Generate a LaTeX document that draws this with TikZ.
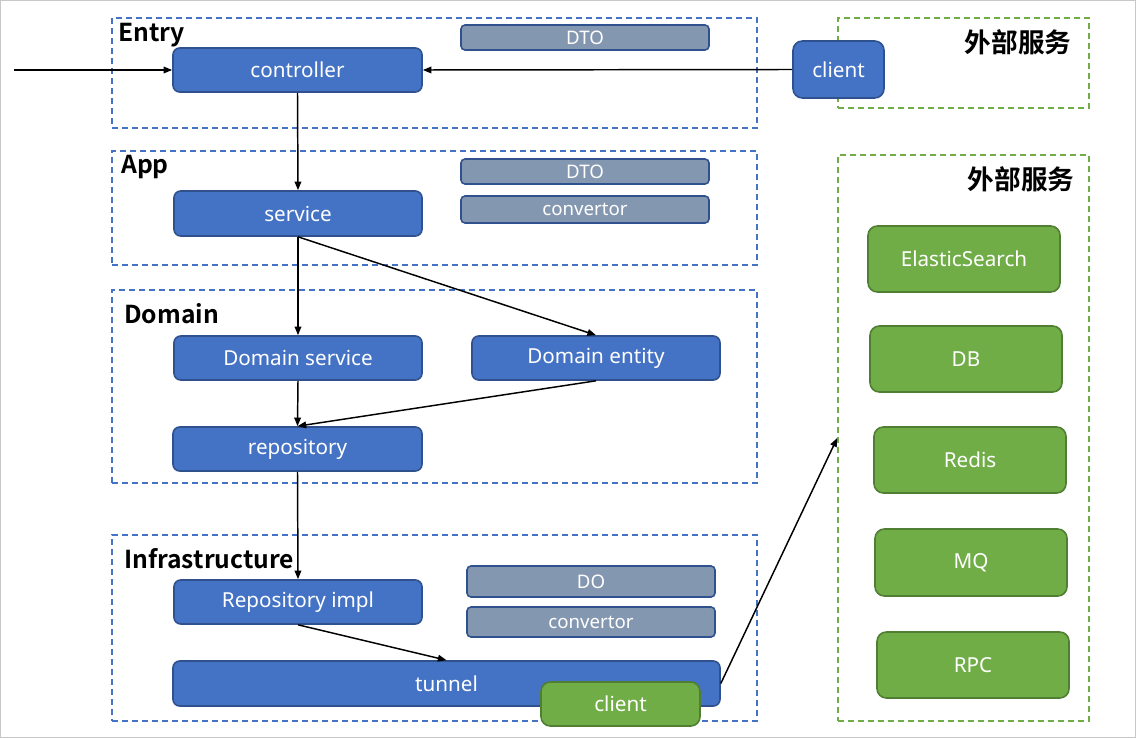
\documentclass[tikz,border=0pt]{standalone}
\usepackage{fontspec}
\setmainfont{Noto Sans}
\newfontfamily\cjkbold{Noto Sans CJK SC Bold}
\usetikzlibrary{arrows.meta,fit}
\definecolor{bfill}{HTML}{4472C4}
\definecolor{bdraw}{HTML}{2F528F}
\definecolor{gfill}{HTML}{70AD47}
\definecolor{gdraw}{HTML}{507E32}
\definecolor{sfill}{HTML}{8497B0}
\definecolor{frame}{HTML}{C8C8C8}
\tikzset{
  box/.style={rounded corners=5pt, line width=1.2pt, inner sep=0pt},
  bigtxt/.style={text=white, inner sep=0pt, font=\fontsize{15.5}{18}\selectfont},
  smalltxt/.style={text=white, inner sep=0pt, font=\fontsize{14}{16}\selectfont},
  bluebox/.style={box, fill=bfill, draw=bdraw},
  smallbox/.style={box, fill=sfill, draw=bdraw, rounded corners=3pt},
  greenbox/.style={box, fill=gfill, draw=gdraw, rounded corners=7pt},
  layer/.style={draw=bfill, dash pattern=on 4.5pt off 3pt, line width=1.2pt, inner sep=0pt},
  extlayer/.style={draw=gfill, dash pattern=on 4.5pt off 3pt, line width=1.2pt, inner sep=0pt},
  title/.style={font=\cjkbold\fontsize{18.5}{22}\selectfont, anchor=west, inner sep=0pt},
  cjktitle/.style={font=\cjkbold\fontsize{20}{24}\selectfont, inner sep=0pt},
  conn/.style={line width=1.1pt, -{Triangle[length=6.5pt,width=5pt]}}
}
\newcommand\bigbox[4]{\node[#1, fit={#3}, label={[bigtxt]center:#4}] (#2) {};}
\newcommand\smbox[3]{\node[smallbox, fit={#2}, label={[smalltxt]center:#3}] (#1) {};}
\begin{document}
\begin{tikzpicture}[x=0.75pt,y=-0.75pt]
\useasboundingbox (0,0) rectangle (1136,738);
\draw[frame, line width=0.75pt] (0.5,0.5) rectangle (1135.5,737.5);
% layers
\node[layer, fit={(112,18) (757,128)}] (Lentry) {};
\node[layer, fit={(112,151) (757,265)}] (Lapp) {};
\node[layer, fit={(112,290) (757,483)}] (Ldom) {};
\node[layer, fit={(112,535) (757,721)}] (Linf) {};
\node[extlayer, fit={(838,18) (1089,108)}] (ext1) {};
\node[extlayer, fit={(838,155) (1089,721)}] (ext2) {};
% titles
\node[title] (tEntry) at (118,35) {Entry};
\node[title] (tApp) at (121,167) {App};
\node[title] (tDom) at (124,314) {Domain};
\node[title] (tInf) at (124,559) {Infrastructure};
\node[cjktitle] (tExt1) at (1018,42) {外部服务};
\node[cjktitle] (tExt2) at (1021,179) {外部服务};
% entry
\bigbox{bluebox}{ctrl}{(173,48) (422,92)}{controller}
\smbox{dto1}{(461,25) (709,50)}{DTO}
\bigbox{bluebox,rounded corners=7pt}{client1}{(793,41) (884,98)}{client}
% app
\bigbox{bluebox}{svc}{(174,191) (422,236)}{service}
\smbox{dto2}{(461,159) (709,184)}{DTO}
\smbox{conv1}{(461,196) (709,223)}{convertor}
% domain
\bigbox{bluebox}{dsvc}{(174,336) (422,380)}{Domain service}
\bigbox{bluebox}{dent}{(472,336) (720,380)}{Domain entity}
\bigbox{bluebox}{repo}{(173,427) (422,471)}{repository}
% infrastructure
\bigbox{bluebox}{rimpl}{(174,580) (422,624)}{Repository impl}
\smbox{do}{(467,566) (715,597)}{DO}
\smbox{conv2}{(467,607) (715,637)}{convertor}
\bigbox{bluebox}{tunnel}{(173,661) (720,706)}{tunnel}
\bigbox{greenbox}{client2}{(541,682) (700,726)}{client}
% external services
\bigbox{greenbox}{es}{(868,226) (1060,292)}{ElasticSearch}
\bigbox{greenbox}{db}{(870,326) (1062,392)}{DB}
\bigbox{greenbox}{redis}{(874,427) (1066,493)}{Redis}
\bigbox{greenbox}{mq}{(875,529) (1067,596)}{MQ}
\bigbox{greenbox}{rpc}{(877,632) (1069,698)}{RPC}
% connectors
\coordinate (in) at (14,70);
\draw[conn] (in) -- (ctrl.west);
\draw[conn] (client1.west) -- (ctrl.east);
\draw[conn] (ctrl.south) -- (svc.north);
\draw[conn] (svc.south) -- (dsvc.north);
\draw[conn] (svc.south) -- (dent.north);
\draw[conn] (dsvc.south) -- (repo.north);
\draw[conn] (dent.south) -- (repo.north);
\draw[conn] (repo.south) -- (rimpl.north);
\draw[conn] (rimpl.south) -- (tunnel.north);
\draw[conn] (tunnel.east) -- (ext2.west);
\end{tikzpicture}
\end{document}
